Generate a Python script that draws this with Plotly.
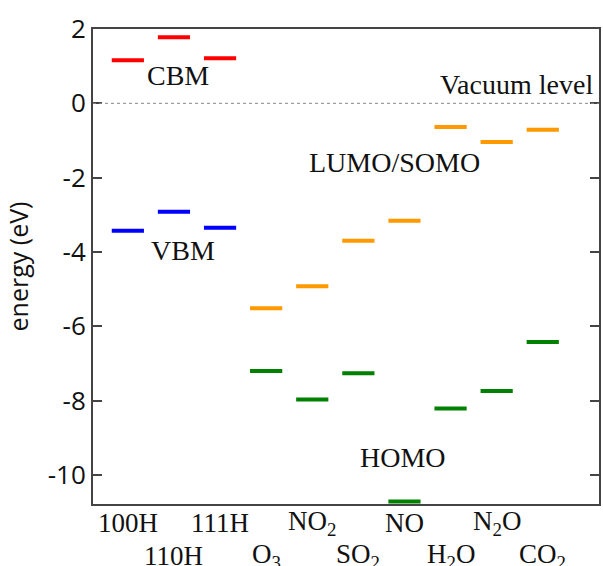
import plotly.graph_objects as go

categories = ["100H", "110H", "111H", "O<sub>3</sub>", "NO<sub>2</sub>", "SO<sub>2</sub>",
              "NO", "H<sub>2</sub>O", "N<sub>2</sub>O", "CO<sub>2</sub>"]
surfaces = ["100H", "110H", "111H"]
molecules = ["O3", "NO2", "SO2", "NO", "H2O", "N2O", "CO2"]

cbm = [1.16, 1.78, 1.21]
vbm = [-3.43, -2.92, -3.35]
lumo = [-5.51, -4.92, -3.70, -3.16, -0.64, -1.04, -0.71]
homo = [-7.20, -7.97, -7.26, -10.71, -8.21, -7.74, -6.42]

surf_x = list(range(len(surfaces)))
mol_x = list(range(len(surfaces), len(surfaces) + len(molecules)))

SERIF = "Liberation Serif, Times New Roman, serif"
SANS = "Open Sans, Arial, sans-serif"

fig = go.Figure()

def levels(xs, ys, color, name):
    fig.add_trace(go.Scatter(
        x=xs, y=ys, mode="markers", name=name,
        marker=dict(symbol="line-ew", size=23, line=dict(width=4, color=color)),
        showlegend=False, hoverinfo="y"))

levels(surf_x, cbm, "#ff0000", "CBM")
levels(surf_x, vbm, "#0000ff", "VBM")
levels(mol_x, lumo, "#ff9900", "LUMO/SOMO")
levels(mol_x, homo, "#008000", "HOMO")

# vacuum level line
fig.add_hline(y=0, line=dict(color="#888888", width=1, dash="dot"))

# category labels in two staggered rows
for i, lab in enumerate(categories):
    fig.add_annotation(x=i, y=0, xref="x", yref="paper", text=lab, showarrow=False,
                       yshift=-19 if i % 2 == 0 else -52, yanchor="middle",
                       font=dict(family=SERIF, size=27, color="#111111"))

def label(text, x, y, **kw):
    fig.add_annotation(x=x, y=y, text=text, showarrow=False,
                       font=dict(family=SERIF, size=28, color="#111111"), **kw)

label("CBM", 1.08, 0.74)
label("VBM", 1.19, -3.97)
label("LUMO/SOMO", 5.79, -1.6)
label("HOMO", 5.97, -9.54)
fig.add_annotation(x=1, xref="paper", y=0.5, text="Vacuum level", showarrow=False,
                   xanchor="right", xshift=-4,
                   font=dict(family=SERIF, size=28, color="#111111"))

fig.update_layout(
    width=603, height=566,
    margin=dict(l=93, r=2, t=29, b=62),
    plot_bgcolor="white", paper_bgcolor="white",
    xaxis=dict(range=[-0.756, 10.22], showticklabels=False, ticks="",
               showgrid=False, zeroline=False, showline=True, mirror=True,
               linecolor="#444444", linewidth=2),
    yaxis=dict(range=[-10.78, 2.0], tickvals=[2, 0, -2, -4, -6, -8, -10],
               ticktext=["2", "0", "-2", "-4", "-6", "-8", "-10"],
               ticks="inside", ticklen=9, tickwidth=1.5, tickcolor="#444444",
               showgrid=False, zeroline=False, showline=True, mirror="allticks",
               linecolor="#444444", linewidth=2,
               tickfont=dict(family=SANS, size=26, color="#111111"),
               title=dict(text="energy (eV)", standoff=12,
                          font=dict(family=SANS, size=25, color="#111111"))),
)

fig.write_html("out.html", config={"displayModeBar": False},
               post_script="document.body.style.margin='0';document.body.style.overflow='hidden';")
